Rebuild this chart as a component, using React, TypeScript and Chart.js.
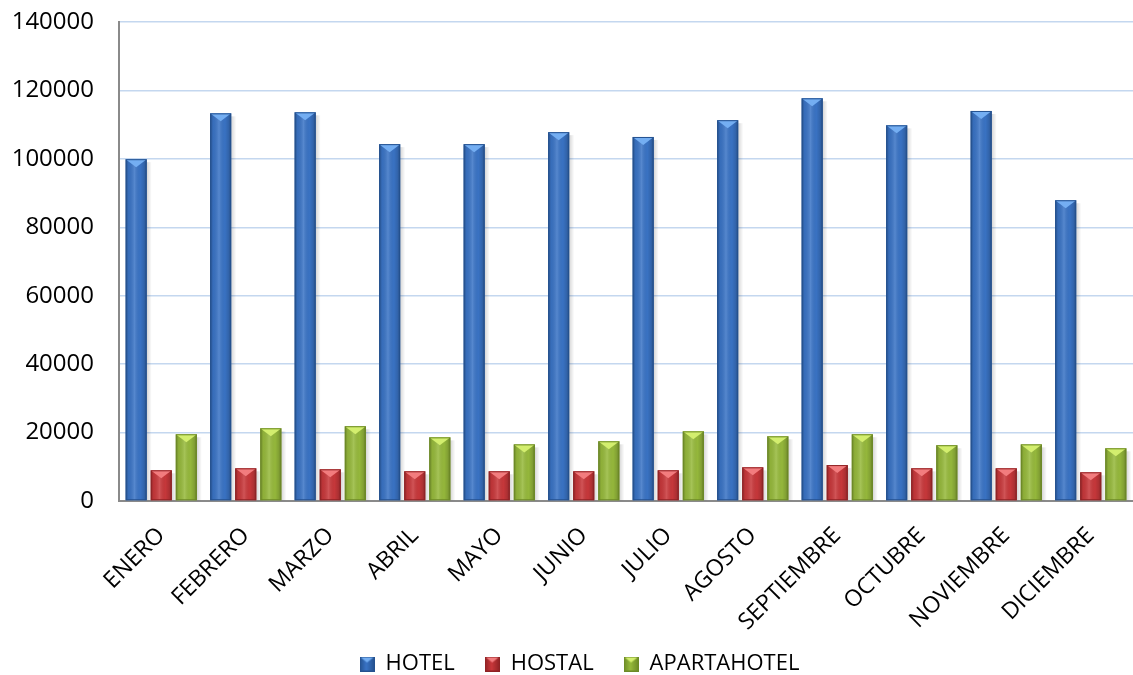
import React, { useEffect, useRef } from "react";
import { Chart, registerables } from "chart.js";

Chart.register(...registerables);

const months = [
  "ENERO",
  "FEBRERO",
  "MARZO",
  "ABRIL",
  "MAYO",
  "JUNIO",
  "JULIO",
  "AGOSTO",
  "SEPTIEMBRE",
  "OCTUBRE",
  "NOVIEMBRE",
  "DICIEMBRE",
];
const hotel = [99900, 113300, 113600, 104300, 104300, 107800, 106400, 111300, 117700, 109800, 114000, 87900];
const hostal = [8970, 9550, 9260, 8680, 8680, 8680, 8970, 9840, 10500, 9550, 9550, 8380];
const apartahotel = [19500, 21250, 21850, 18600, 16550, 17450, 20350, 18900, 19500, 16300, 16550, 15400];
const yTicks = [0, 20000, 40000, 60000, 80000, 100000, 120000, 140000];

const seriesNames = ["HOTEL", "HOSTAL", "APARTAHOTEL"];
const seriesBase = ["#3A74C6", "#C9383B", "#97BA3C"];
const seriesEdge = ["#24518F", "#8F2224", "#6C8A26"];
const seriesTop = ["#74AEF2", "#F27C7E", "#D3EE6E"];

const FONT = "'Open Sans', 'DejaVu Sans', sans-serif";

function legendIcon(i: number): HTMLCanvasElement {
  const c = document.createElement("canvas");
  c.width = 15;
  c.height = 15;
  const g = c.getContext("2d")!;
  const grad = g.createLinearGradient(0, 0, 15, 0);
  grad.addColorStop(0, seriesEdge[i]);
  grad.addColorStop(0.45, seriesBase[i]);
  grad.addColorStop(1, seriesEdge[i]);
  g.fillStyle = grad;
  g.fillRect(0, 0, 15, 15);
  g.beginPath();
  g.moveTo(0, 0);
  g.lineTo(15, 0);
  g.lineTo(7.5, 6);
  g.closePath();
  g.fillStyle = seriesTop[i];
  g.fill();
  g.strokeStyle = seriesEdge[i];
  g.lineWidth = 1;
  g.strokeRect(0.5, 0.5, 14, 14);
  return c;
}

const layoutTweak = {
  id: "layoutTweak",
  afterLayout(chart: any) {
    const xs = chart.scales.x;
    if (xs) xs.bottom = chart.height;
    const lg = chart.legend;
    if (lg) {
      lg.left += 13;
      lg.right += 13;
    }
  },
};

const bevelPlugin = {
  id: "bevel",
  beforeDatasetsDraw(chart: any) {
    const ctx = chart.ctx;
    ctx.save();
    chart.data.datasets.forEach((_ds: any, di: number) => {
      const meta = chart.getDatasetMeta(di);
      meta.data.forEach((el: any) => {
        const { x, y, base, width } = el.getProps(["x", "y", "base", "width"], true);
        const r = x + width / 2;
        const t = Math.min(y, base);
        const b = Math.max(y, base);
        const sg = ctx.createLinearGradient(r, 0, r + 5, 0);
        sg.addColorStop(0, "rgba(0,0,0,0.16)");
        sg.addColorStop(1, "rgba(0,0,0,0)");
        ctx.fillStyle = sg;
        ctx.fillRect(r, t + 3, 5, b - t - 3);
      });
    });
    ctx.restore();
  },
  afterDatasetsDraw(chart: any) {
    const ctx = chart.ctx;
    ctx.save();
    chart.data.datasets.forEach((_ds: any, di: number) => {
      const meta = chart.getDatasetMeta(di);
      meta.data.forEach((el: any) => {
        const { x, y, base, width } = el.getProps(["x", "y", "base", "width"], true);
        const l = x - width / 2;
        const r = x + width / 2;
        const t = Math.min(y, base);
        const b = Math.max(y, base);
        const g = ctx.createLinearGradient(l, 0, r, 0);
        g.addColorStop(0, "rgba(0,0,0,0.30)");
        g.addColorStop(0.14, "rgba(0,0,0,0.06)");
        g.addColorStop(0.42, "rgba(255,255,255,0.14)");
        g.addColorStop(0.7, "rgba(0,0,0,0.02)");
        g.addColorStop(0.88, "rgba(0,0,0,0.14)");
        g.addColorStop(1, "rgba(0,0,0,0.34)");
        ctx.fillStyle = g;
        ctx.fillRect(l, t, width, b - t);
        const th = Math.min(8, (b - t) / 2);
        ctx.beginPath();
        ctx.moveTo(l, t);
        ctx.lineTo(r, t);
        ctx.lineTo(x, t + th);
        ctx.closePath();
        ctx.fillStyle = seriesTop[di];
        ctx.fill();
        ctx.strokeStyle = seriesEdge[di];
        ctx.lineWidth = 1;
        ctx.strokeRect(l + 0.5, t + 0.5, width - 1, b - t - 1);
      });
    });
    ctx.restore();
  },
};

export default function App() {
  const ref = useRef<HTMLCanvasElement | null>(null);

  useEffect(() => {
    if (!ref.current) return;
    const values = [hotel, hostal, apartahotel];
    const icons = [0, 1, 2].map(legendIcon);
    const chart = new Chart(ref.current, {
      type: "bar",
      data: {
        labels: months,
        datasets: values.map((v, i) => ({
          label: seriesNames[i],
          data: v,
          backgroundColor: seriesBase[i],
          borderWidth: 0,
          categoryPercentage: 0.89,
          barPercentage: 0.84,
        })),
      },
      options: {
        animation: false,
        responsive: true,
        maintainAspectRatio: false,
        layout: { padding: { top: 22, left: 0, right: 0, bottom: -10 } },
        plugins: {
          tooltip: { enabled: false },
          legend: {
            position: "bottom",
            labels: {
              usePointStyle: true,
              boxWidth: 15,
              boxHeight: 15,
              padding: 30,
              color: "#000",
              font: { family: FONT, size: 22 },
              generateLabels: (ch: any) => {
                const items = Chart.defaults.plugins.legend.labels.generateLabels(ch);
                return items.map((it: any, i: number) => ({ ...it, pointStyle: icons[i] }));
              },
            },
          },
        },
        scales: {
          x: {
            grid: { display: false, drawTicks: false },
            border: { display: true, color: "#8A8A8A", width: 2 },
            ticks: {
              autoSkip: false,
              maxRotation: 45,
              minRotation: 45,
              padding: 21,
              color: "#000",
              font: { family: FONT, size: 23 },
            },
            afterFit: (s: any) => {
              s.height = 122;
            },
          },
          y: {
            min: 0,
            max: 140000,
            afterBuildTicks: (s: any) => {
              s.ticks = yTicks.map((v) => ({ value: v }));
            },
            ticks: {
              padding: 25,
              color: "#000",
              font: { family: FONT, size: 24 },
              callback: (v: any) => String(v),
            },
            grid: { color: "#C4D7EF", lineWidth: 1.5, drawTicks: false },
            border: { display: true, color: "#8A8A8A", width: 2 },
            afterFit: (s: any) => {
              s.width = 119;
              s.paddingTop = 0;
              s.paddingBottom = 0;
            },
          },
        },
      },
      plugins: [bevelPlugin, layoutTweak],
    });
    return () => chart.destroy();
  }, []);

  return (
    <div style={{ position: "fixed", left: 0, top: 0, width: 1133, height: 675, background: "#fff" }}>
      <canvas ref={ref} />
    </div>
  );
}
